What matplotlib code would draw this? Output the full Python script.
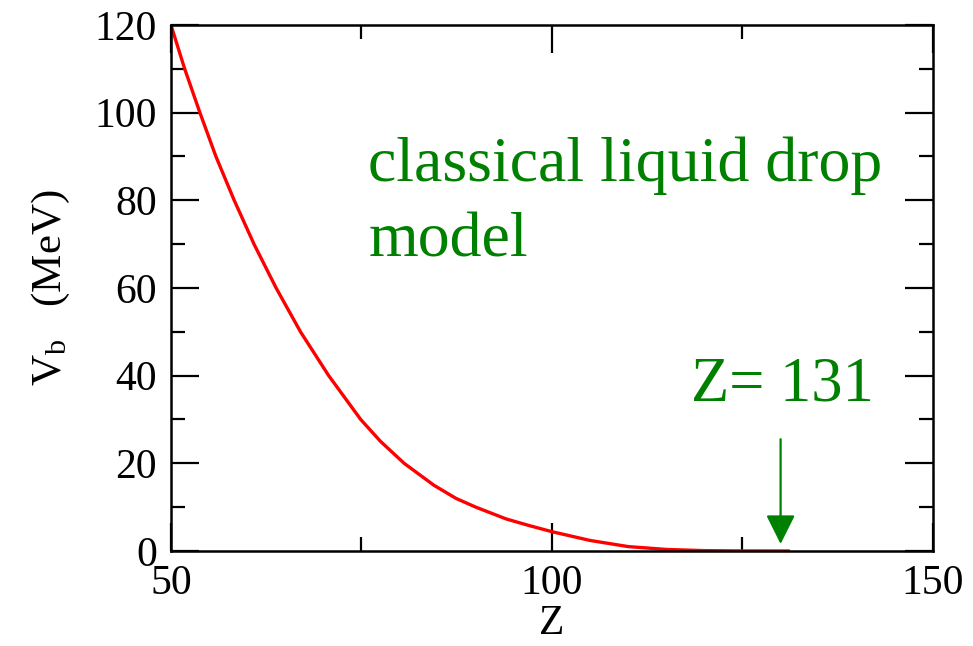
import matplotlib
matplotlib.use("Agg")
import matplotlib.pyplot as plt
from matplotlib.ticker import MultipleLocator

# barrier height vs. charge number, classical liquid drop model
z_vals = [50, 51.8, 53.8, 55.9, 58.3, 60.9, 63.8, 67.0, 70.7, 74.9, 77.5,
          80.6, 84.5, 87.4, 90.0, 94.0, 97.0, 100, 105, 110, 115, 120, 125, 131]
vb_vals = [120, 110, 100, 90, 80, 70, 60, 50, 40, 30, 25,
           20, 15, 12, 10, 7.3, 5.8, 4.4, 2.4, 1.0, 0.35, 0.08, 0.01, 0]

z_crit = 130
arrow_top = 25.5
arrow_tip = 1.6

plt.rcParams['font.family'] = ['Liberation Serif', 'DejaVu Serif']
plt.rcParams['mathtext.fontset'] = 'custom'
plt.rcParams['mathtext.rm'] = 'Liberation Serif'
plt.rcParams['mathtext.it'] = 'Liberation Serif:italic'

green = '#008000'

fig = plt.figure(figsize=(9.73, 6.46), dpi=100)
ax = fig.add_axes([0.1757, 0.1471, 0.9589 - 0.1757, 0.9613 - 0.1471])

ax.plot(z_vals, vb_vals, color='#ff0000', lw=2.4, solid_joinstyle='round')

ax.annotate('', xy=(z_crit, arrow_tip), xytext=(z_crit, arrow_top),
            arrowprops=dict(arrowstyle='-|>,head_length=0.9,head_width=0.45',
                            mutation_scale=20, color=green, lw=1.6,
                            shrinkA=0, shrinkB=0))

ax.text(75.9, 84.3, 'classical liquid drop', color=green, fontsize=46,
        ha='left', va='baseline')
ax.text(75.9, 67.2, 'model', color=green, fontsize=46,
        ha='left', va='baseline')
ax.text(118.2, 34.3, 'Z= 131', color=green, fontsize=45,
        ha='left', va='baseline')

ax.set_xlim(50, 150)
ax.set_ylim(0, 120)
ax.xaxis.set_major_locator(MultipleLocator(50))
ax.xaxis.set_minor_locator(MultipleLocator(25))
ax.yaxis.set_major_locator(MultipleLocator(20))
ax.yaxis.set_minor_locator(MultipleLocator(10))

ax.tick_params(which='both', direction='in', top=True, right=True,
               labelsize=30, width=1.6, color='black')
ax.tick_params(which='major', length=20)
ax.tick_params(which='minor', length=10)
ax.tick_params(axis='x', pad=10)
ax.tick_params(axis='y', pad=10)

for sp in ax.spines.values():
    sp.set_linewidth(1.8)

ax.set_xlabel('Z', fontsize=30, labelpad=1)
ax.set_ylabel('V$_\\mathrm{b}$   (MeV)', fontsize=31, labelpad=16)

fig.savefig('out.png', dpi=100)
